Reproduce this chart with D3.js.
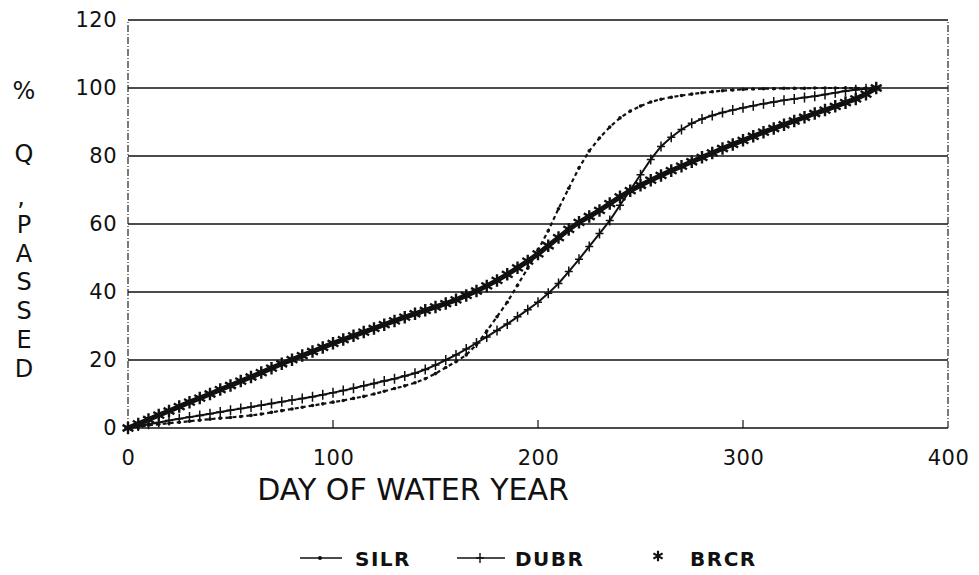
<!DOCTYPE html>
<html><head><meta charset="utf-8">
<script src="https://cdn.jsdelivr.net/npm/d3@7"></script>
<style>body{margin:0;background:#fff}</style>
</head><body><svg id="c" width="979" height="575"></svg>
<script>
// ---- data ----
const days = d3.range(0, 370, 5); // day of water year (0..365)
const silr = [0,0.4,0.8,1.1,1.4,1.7,2.0,2.3,2.6,2.9,3.1,3.4,3.7,4.1,4.6,5.1,5.6,6.1,6.6,7.1,
  7.6,8.1,8.7,9.3,10.0,10.8,11.6,12.4,13.3,14.5,16.0,17.8,19.5,21.5,24.5,28.5,32.7,37.0,42.0,47.0,
  52.3,58.0,64.5,70.5,76.5,81.5,85.3,88.5,91.2,93.2,94.7,95.9,96.7,97.3,97.8,98.2,98.6,98.9,99.2,99.4,
  99.6,99.7,99.8,99.8,99.9,99.9,99.9,100,100,100,100,100,100,100];
const dubr = [0,0.6,1.1,1.6,2.2,2.7,3.2,3.7,4.2,4.7,5.2,5.7,6.2,6.7,7.2,7.7,8.2,8.7,9.2,9.8,
  10.4,11.0,11.7,12.4,13.1,13.8,14.5,15.3,16.1,17.2,18.5,20.0,21.5,23.2,25.0,26.8,28.7,30.6,32.7,34.8,
  37.0,39.6,42.5,46.0,49.6,53.4,57.2,61.0,65.5,70.0,74.5,79.0,82.8,85.5,87.8,89.6,90.9,91.9,92.8,93.5,
  94.2,94.8,95.4,95.9,96.4,96.8,97.2,97.6,98.1,98.6,99.1,99.5,99.8,100];
const brcr = [0,1.2,2.5,3.8,5.0,6.3,7.6,8.8,10.0,11.3,12.5,13.8,15.0,16.3,17.6,18.9,20.1,21.3,22.5,23.7,
  24.9,26.0,27.1,28.2,29.3,30.4,31.5,32.6,33.6,34.6,35.6,36.6,37.7,39.0,40.3,41.8,43.4,45.2,47.1,49.1,
  51.2,53.6,56.0,58.4,60.5,62.2,64.0,66.0,68.0,69.8,71.4,72.9,74.3,75.7,77.0,78.3,79.6,80.9,82.2,83.4,
  84.6,85.8,87.0,88.1,89.2,90.3,91.4,92.5,93.5,94.6,95.7,96.8,98.2,100];
const seriesNames = ["SILR", "DUBR", "BRCR"];
const xTicks = [0, 100, 200, 300, 400];
const yTicks = [0, 20, 40, 60, 80, 100, 120];
const yLabelChars = ["%", "Q", ",", "P", "A", "S", "S", "E", "D"];
const xTitle = "DAY OF WATER YEAR";

// ---- chart ----
const svg = d3.select("#c");
const FONT = "'DejaVu Sans', sans-serif";
const x = d3.scaleLinear().domain([0, 400]).range([128, 948]);
const y = d3.scaleLinear().domain([0, 120]).range([428, 20]);

// grid lines
svg.append("g").selectAll("line").data(yTicks.filter(v => v > 0 && v < 120)).join("line")
  .attr("x1", x(0)).attr("x2", x(400)).attr("y1", d => y(d)).attr("y2", d => y(d))
  .attr("stroke", "#111").attr("stroke-width", 1.6);

// frame
svg.append("line").attr("x1", x(0)).attr("x2", x(400)).attr("y1", y(120)).attr("y2", y(120))
  .attr("stroke", "#111").attr("stroke-width", 1.6);
svg.append("line").attr("x1", x(0)).attr("x2", x(400)).attr("y1", y(0)).attr("y2", y(0))
  .attr("stroke", "#111").attr("stroke-width", 1.6);
svg.append("line").attr("x1", x(0)).attr("x2", x(0)).attr("y1", y(0)).attr("y2", y(120))
  .attr("stroke", "#222").attr("stroke-width", 1.2).attr("stroke-dasharray", "7,2,1,2");
svg.append("line").attr("x1", x(400)).attr("x2", x(400)).attr("y1", y(0)).attr("y2", y(120))
  .attr("stroke", "#222").attr("stroke-width", 1.2).attr("stroke-dasharray", "7,2,1,2");

// x axis (ticks inward + labels)
const xAxis = d3.axisBottom(x).tickValues(xTicks).tickSize(0).tickPadding(22).tickFormat(d3.format("d"));
const gx = svg.append("g").attr("transform", `translate(0,${y(0)})`).call(xAxis);
gx.select(".domain").remove();
gx.selectAll("text").attr("font-family", FONT).attr("font-size", 21).attr("fill", "#111").attr("letter-spacing", 0.5);
svg.append("g").selectAll("line").data(xTicks.filter(v => v > 0 && v < 400)).join("line")
  .attr("x1", d => x(d)).attr("x2", d => x(d)).attr("y1", y(0)).attr("y2", y(0) - 8)
  .attr("stroke", "#111").attr("stroke-width", 1.2);

// y axis labels
const yAxis = d3.axisLeft(y).tickValues(yTicks).tickSize(0).tickPadding(11).tickFormat(d3.format("d"));
const gy = svg.append("g").attr("transform", `translate(${x(0)},0)`).call(yAxis);
gy.select(".domain").remove();
gy.selectAll("text").attr("font-family", FONT).attr("font-size", 21).attr("fill", "#111").attr("letter-spacing", 0.5);

// x title
svg.append("text").attr("x", 413).attr("y", 500).attr("text-anchor", "middle")
  .attr("font-family", FONT).attr("font-size", 30).attr("fill", "#111").text(xTitle);

// y title (stacked letters)
const yLabelY = [99, 162, 205, 233, 262, 290, 319, 348, 377];
const yLabelX = [24, 24, 21, 24, 24, 24, 24, 24, 24];
svg.append("g").selectAll("text").data(yLabelChars).join("text")
  .attr("x", (d, i) => yLabelX[i]).attr("y", (d, i) => yLabelY[i]).attr("text-anchor", "middle")
  .attr("font-family", FONT).attr("font-size", 24).attr("fill", "#111").text(d => d);

// series
const mk = v => days.map((d, i) => ({d, v: v[i]}));
const line = d3.line().x(p => x(p.d)).y(p => y(p.v));
const plot = svg.append("g");

// DUBR
plot.append("path").datum(mk(dubr)).attr("d", line).attr("fill", "none")
  .attr("stroke", "#111").attr("stroke-width", 2);
const plusPath = "M-4,0H4M0,-5V5";
plot.append("g").selectAll("path").data(mk(dubr)).join("path")
  .attr("transform", p => `translate(${x(p.d)},${y(p.v)})`).attr("d", plusPath)
  .attr("stroke", "#111").attr("stroke-width", 1.5).attr("fill", "none");

// SILR
plot.append("path").datum(mk(silr)).attr("d", line).attr("fill", "none")
  .attr("stroke", "#111").attr("stroke-width", 2.2).attr("stroke-dasharray", "4,3");
plot.append("g").selectAll("circle").data(mk(silr)).join("circle")
  .attr("cx", p => x(p.d)).attr("cy", p => y(p.v)).attr("r", 1.8).attr("fill", "#111");

// BRCR
plot.append("path").datum(mk(brcr)).attr("d", line).attr("fill", "none")
  .attr("stroke", "#111").attr("stroke-width", 5);
const ast = d3.symbol().type(d3.symbolAsterisk).size(110);
plot.append("g").selectAll("path").data(mk(brcr)).join("path")
  .attr("transform", p => `translate(${x(p.d)},${y(p.v)})`).attr("d", ast)
  .attr("stroke", "#111").attr("stroke-width", 2.4).attr("fill", "none");

// legend
const lg = svg.append("g");
const LY = 558;
const ast2 = d3.symbol().type(d3.symbolAsterisk).size(80);
// SILR
lg.append("line").attr("x1", 300).attr("x2", 342).attr("y1", LY).attr("y2", LY).attr("stroke", "#111").attr("stroke-width", 1.6);
lg.append("circle").attr("cx", 320).attr("cy", LY).attr("r", 2).attr("fill", "#111");
lg.append("text").attr("x", 355).attr("y", LY + 8).attr("font-family", FONT).attr("font-weight", "bold")
  .attr("font-size", 20).attr("letter-spacing", 1.5).attr("fill", "#111").text(seriesNames[0]);
// DUBR
lg.append("line").attr("x1", 457).attr("x2", 505).attr("y1", LY).attr("y2", LY).attr("stroke", "#111").attr("stroke-width", 1.6);
lg.append("path").attr("transform", `translate(480,${LY})`).attr("d", plusPath).attr("stroke", "#111").attr("stroke-width", 1.4);
lg.append("text").attr("x", 515).attr("y", LY + 8).attr("font-family", FONT).attr("font-weight", "bold")
  .attr("font-size", 20).attr("letter-spacing", 1.5).attr("fill", "#111").text(seriesNames[1]);
// BRCR
lg.append("path").attr("transform", `translate(658,${LY - 2})`).attr("d", ast2).attr("stroke", "#111").attr("stroke-width", 2.2).attr("fill", "none");
lg.append("text").attr("x", 690).attr("y", LY + 8).attr("font-family", FONT).attr("font-weight", "bold")
  .attr("font-size", 20).attr("letter-spacing", 1.5).attr("fill", "#111").text(seriesNames[2]);
</script>
</body></html>
